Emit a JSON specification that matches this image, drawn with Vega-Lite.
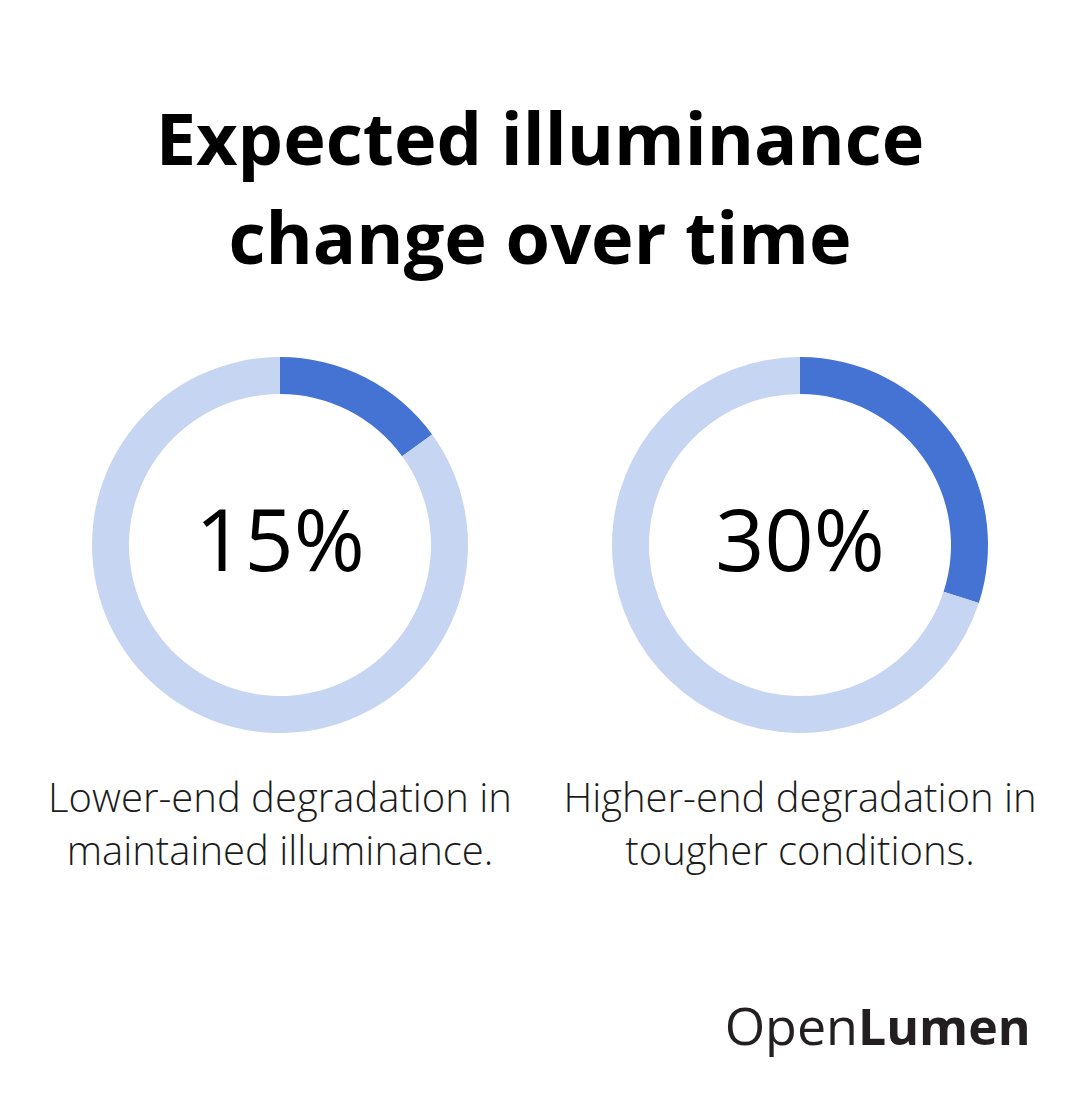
{
  "$schema": "https://vega.github.io/schema/vega-lite/v6.json",
  "background": "white",
  "padding": {"left": 20, "right": 20, "top": 107, "bottom": 20},
  "datasets": {
    "segments": [
      {"chart": "Lower-end", "part": "Degradation", "share": 0.15},
      {"chart": "Lower-end", "part": "Remaining", "share": 0.85},
      {"chart": "Higher-end", "part": "Degradation", "share": 0.30},
      {"chart": "Higher-end", "part": "Remaining", "share": 0.70}
    ],
    "captions": [
      {"chart": "Lower-end", "caption": "Lower-end degradation in\nmaintained illuminance."},
      {"chart": "Higher-end", "caption": "Higher-end degradation in\ntougher conditions."}
    ],
    "brand": [{"word": "Open"}, {"word": "Lumen"}]
  },
  "title": {
    "text": ["Expected illuminance", "change over time"],
    "font": "Open Sans",
    "fontSize": 72,
    "fontWeight": "bold",
    "lineHeight": 99,
    "color": "#000000",
    "anchor": "middle",
    "baseline": "top",
    "offset": 76
  },
  "vconcat": [
    {
      "data": {"name": "segments"},
      "facet": {"column": {"field": "chart", "type": "nominal", "sort": ["Lower-end", "Higher-end"], "header": null}},
      "spec": {
        "width": 520,
        "height": 380,
        "layer": [
          {
            "mark": {"type": "arc", "outerRadius": 188, "innerRadius": 151},
            "encoding": {
              "theta": {"field": "share", "type": "quantitative", "stack": true},
              "order": {"field": "part", "type": "ordinal"},
              "color": {
                "field": "part",
                "type": "nominal",
                "scale": {"domain": ["Degradation", "Remaining"], "range": ["#4473D3", "#C6D5F1"]},
                "legend": null
              }
            }
          },
          {
            "transform": [{"filter": "datum.part === 'Degradation'"}],
            "mark": {"type": "text", "font": "Open Sans", "fontSize": 86, "baseline": "middle", "align": "center", "color": "#000000"},
            "encoding": {"text": {"field": "share", "type": "quantitative", "format": ".0%"}}
          }
        ]
      }
    },
    {
      "data": {"name": "captions"},
      "facet": {"column": {"field": "chart", "type": "nominal", "sort": ["Lower-end", "Higher-end"], "header": null}},
      "spec": {
        "width": 520,
        "height": 130,
        "mark": {"type": "text", "lineBreak": "\n", "font": "Open Sans", "fontSize": 40, "fontWeight": 300, "lineHeight": 53, "baseline": "middle", "align": "center", "color": "#1c1c1c"},
        "encoding": {"text": {"field": "caption", "type": "nominal"}}
      }
    },
    {
      "data": {"name": "brand"},
      "resolve": {"scale": {"x": "independent", "y": "independent"}},
      "hconcat": [
        {
          "width": 838,
          "height": 172,
          "transform": [{"filter": "datum.word === 'Open'"}],
          "mark": {"type": "text", "align": "right", "baseline": "alphabetic", "font": "Open Sans", "fontSize": 52, "color": "#231f20"},
          "encoding": {
            "x": {"datum": 1, "type": "quantitative", "scale": {"domain": [0, 1]}, "axis": null},
            "y": {"datum": 0, "type": "quantitative", "scale": {"domain": [0, 1]}, "axis": null},
            "text": {"field": "word", "type": "nominal"}
          }
        },
        {
          "width": 202,
          "height": 172,
          "transform": [{"filter": "datum.word === 'Lumen'"}],
          "mark": {"type": "text", "align": "left", "baseline": "alphabetic", "font": "Open Sans", "fontSize": 50, "fontWeight": "bold", "color": "#231f20"},
          "encoding": {
            "x": {"datum": 0, "type": "quantitative", "scale": {"domain": [0, 1]}, "axis": null},
            "y": {"datum": 0, "type": "quantitative", "scale": {"domain": [0, 1]}, "axis": null},
            "text": {"field": "word", "type": "nominal"}
          }
        }
      ]
    }
  ],
  "config": {
    "view": {"stroke": null},
    "concat": {"spacing": 0},
    "facet": {"spacing": 0}
  }
}
